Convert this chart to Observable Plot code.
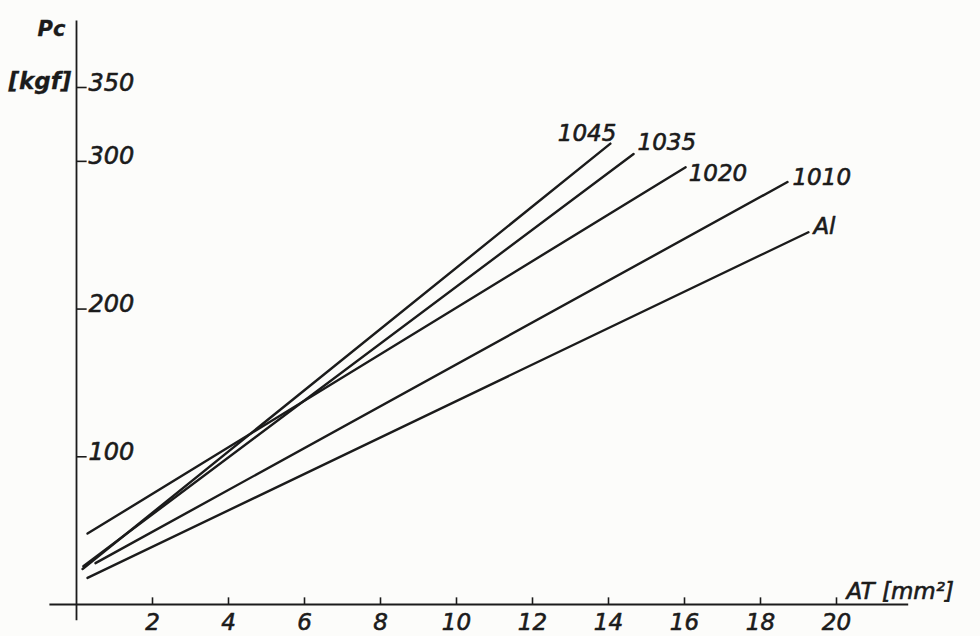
<!DOCTYPE html>
<html>
<head>
<meta charset="utf-8">
<script src="https://cdn.jsdelivr.net/npm/d3@7"></script>
<script src="https://cdn.jsdelivr.net/npm/@observablehq/plot@0.6"></script>
<style>
  html, body { margin: 0; padding: 0; background: #fcfcfa; }
  #chart svg { display: block; }
</style>
</head>
<body>
<div id="chart"></div>
<script>
// ---- data ----
const series  = ["1045", "1035", "1020", "1010", "Al"];
const atStart = [0.16, 0.18, 0.29, 0.50, 0.29];   // AT [mm²] at line start
const pcStart = [24, 26, 48, 28, 18];             // Pc [kgf] at line start
const atEnd   = [14.05, 14.66, 16.03, 18.71, 19.26];
const pcEnd   = [312, 305, 296, 286, 252];

const xTicks = [2, 4, 6, 8, 10, 12, 14, 16, 18, 20];
const yTicks = [100, 200, 300, 350];
const xAxisExtent = [-0.7, 21.9];
const yAxisExtent = [-11, 395];

// table built from the arrays
const rows = series.flatMap((s, i) => [
  {series: s, at: atStart[i], pc: pcStart[i]},
  {series: s, at: atEnd[i],   pc: pcEnd[i]}
]);
const ends = series.map((s, i) => ({series: s, at: atEnd[i], pc: pcEnd[i]}));

// label placement (style)
const labelStyle = {
  "1045": {textAnchor: "end",   dx: 6,  dy: -3, lineAnchor: "bottom"},
  "1035": {textAnchor: "start", dx: 4,  dy: -4, lineAnchor: "bottom"},
  "1020": {textAnchor: "start", dx: 3,  dy: 6,  lineAnchor: "middle"},
  "1010": {textAnchor: "start", dx: 5,  dy: -4, lineAnchor: "middle"},
  "Al":   {textAnchor: "start", dx: 5,  dy: -6, lineAnchor: "middle"}
};

const ink = "#1b1b1b";
const font = {fontFamily: "DejaVu Sans", fontStyle: "italic", fill: ink, stroke: ink, strokeWidth: 0.6};

const chart = Plot.plot({
  width: 980,
  height: 636,
  margin: 0,
  style: {background: "#fcfcfa", overflow: "visible"},
  x: {domain: [0, 20], range: [76, 836], axis: null},
  y: {domain: [0, 350], range: [604, 87], axis: null},
  marks: [
    // axes
    Plot.ruleY([0], {x1: xAxisExtent[0], x2: xAxisExtent[1], stroke: ink, strokeWidth: 2}),
    Plot.ruleX([0], {y1: yAxisExtent[0], y2: yAxisExtent[1], stroke: ink, strokeWidth: 1.8}),
    Plot.ruleX(xTicks, {y1: 0, y2: 4.5, stroke: ink, strokeWidth: 1.6}),
    Plot.ruleY(yTicks, {x1: 0, x2: 0.28, stroke: ink, strokeWidth: 1.6}),
    Plot.text(xTicks, {x: d => d, y: 0, dy: 18, lineAnchor: "middle", fontSize: 23, ...font}),
    Plot.text(yTicks, {x: 0, y: d => d, dx: 12, dy: 3, textAnchor: "start", lineAnchor: "bottom", fontSize: 24, ...font}),
    // axis titles
    Plot.text(["Pc"], {frameAnchor: "top-left", dx: 37, dy: 35, textAnchor: "start", lineAnchor: "bottom", fontSize: 21, fontWeight: "bold", ...font, strokeWidth: 0.3}),
    Plot.text(["[kgf]"], {frameAnchor: "top-left", dx: 8, dy: 88, textAnchor: "start", lineAnchor: "bottom", fontSize: 23, fontWeight: "bold", ...font, strokeWidth: 0.3}),
    Plot.text(["AT [mm²]"], {frameAnchor: "top-left", dx: 846, dy: 598, textAnchor: "start", lineAnchor: "bottom", fontSize: 23, ...font}),
    // series lines
    Plot.line(rows, {x: "at", y: "pc", z: "series", stroke: ink, strokeWidth: 2.4, strokeLinecap: "round"}),
    // series labels
    ...series.map(s => Plot.text(ends.filter(d => d.series === s), {
      x: "at", y: "pc", text: "series", fontSize: 23, ...font, ...labelStyle[s]
    }))
  ]
});
document.getElementById("chart").appendChild(chart);
</script>
</body>
</html>
